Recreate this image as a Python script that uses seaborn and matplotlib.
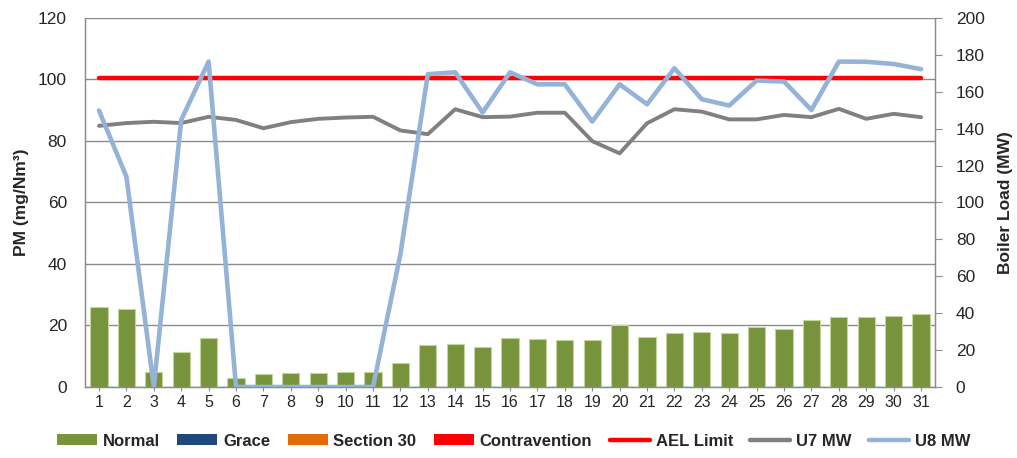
import matplotlib
matplotlib.use("Agg")
import matplotlib.pyplot as plt
import numpy as np
import pandas as pd
import seaborn as sns
from matplotlib.lines import Line2D
from matplotlib.patches import Patch

# 일자별 데이터
days = list(range(1, 32))
pm_normal = [26.0, 25.4, 4.9, 11.3, 16.0, 3.0, 4.2, 4.6, 4.6, 4.9, 5.0,
             7.8, 13.7, 14.0, 13.0, 16.0, 15.6, 15.3, 15.3, 20.2, 16.3,
             17.6, 17.9, 17.6, 19.5, 19.0, 21.8, 22.8, 22.8, 23.2, 23.8]
u7_mw = [141.5, 143.0, 143.7, 143.0, 146.4, 144.7, 140.2, 143.5, 145.3, 146.0,
         146.4, 139.0, 137.0, 150.5, 146.2, 146.5, 148.6, 148.6, 133.2, 126.6,
         142.9, 150.5, 149.2, 145.0, 145.0, 147.4, 146.2, 150.7, 145.3, 148.0,
         146.2]
u8_mw = [149.8, 114.0, 0.0, 144.7, 176.3, 0.0, 0.0, 0.0, 0.0, 0.0,
         0.0, 72.0, 169.5, 170.5, 148.7, 170.5, 164.0, 164.0, 143.8, 164.0,
         153.2, 172.7, 155.9, 152.5, 166.0, 165.5, 150.1, 176.3, 176.2, 175.0,
         172.2]
AEL_LIMIT = 100.5  # mg/Nm3

legend_labels = ["Normal", "Grace", "Section 30", "Contravention",
                 "AEL Limit", "U7 MW", "U8 MW"]

GREEN = "#77933C"
BLUE = "#1F497D"
ORANGE = "#E36C09"
RED = "#FF0000"
GREY = "#808080"
LIGHT_BLUE = "#95B3D7"
AXIS_GREY = "#8C8C8C"

df = pd.DataFrame({"day": days, "pm": pm_normal, "u7": u7_mw, "u8": u8_mw})
df["pos"] = df.index
df["ael"] = AEL_LIMIT

sns.set_style("white")
plt.rcParams["font.family"] = ["Liberation Sans", "DejaVu Sans"]

fig = plt.figure(figsize=(10.17, 4.58), dpi=100)
ax = fig.add_axes([0.0836, 0.155, 0.8358, 0.806])

sns.barplot(data=df, x="pos", y="pm", color=GREEN, width=0.63,
            edgecolor="#C3D69B", linewidth=0.8, saturation=1, ax=ax,
            zorder=2)
sns.lineplot(data=df, x="pos", y="ael", color=RED, linewidth=3.2, ax=ax,
             zorder=3)

ax.set_ylim(0, 120)
ax.set_yticks(np.arange(0, 121, 20))
ax.set_xlim(-0.51, len(days) - 0.49)
ax.set_xticks(df["pos"])
ax.set_xticklabels(days, fontsize=11.5)
ax.tick_params(axis="y", labelsize=12.5, length=0, pad=13)
ax.tick_params(axis="x", length=3, color=AXIS_GREY, pad=3, direction="out",
               bottom=True)
ax.grid(axis="y", color=AXIS_GREY, linewidth=1)
ax.set_axisbelow(True)
ax.set_xlabel("")
ax.set_ylabel("PM (mg/Nm³)", fontsize=12.5, fontweight="bold")
ax.yaxis.set_label_coords(-0.066, 0.5)
for side in ("left", "right", "bottom"):
    ax.spines[side].set_color(AXIS_GREY)
    ax.spines[side].set_linewidth(1)
ax.spines["top"].set_visible(False)

ax2 = ax.twinx()
sns.lineplot(data=df, x="pos", y="u7", color=GREY, linewidth=2.8, ax=ax2)
sns.lineplot(data=df, x="pos", y="u8", color=LIGHT_BLUE, linewidth=3.3, ax=ax2)
ax2.set_ylim(0, 200)
ax2.set_yticks(np.arange(0, 201, 20))
ax2.tick_params(axis="y", labelsize=12.5, length=5, color=AXIS_GREY,
                direction="out", right=True, pad=10)
ax2.set_ylabel("Boiler Load (MW)", fontsize=12.5, fontweight="bold",
               rotation=90)
ax2.yaxis.set_label_coords(1.074, 0.5)
ax2.grid(False)
for side in ("left", "right", "bottom"):
    ax2.spines[side].set_color(AXIS_GREY)
ax2.spines["top"].set_visible(False)

handles = [
    Patch(facecolor=GREEN, edgecolor="none"),
    Patch(facecolor=BLUE, edgecolor="none"),
    Patch(facecolor=ORANGE, edgecolor="none"),
    Patch(facecolor=RED, edgecolor="none"),
    Line2D([], [], color=RED, linewidth=3.2),
    Line2D([], [], color=GREY, linewidth=3.2),
    Line2D([], [], color=LIGHT_BLUE, linewidth=3.2),
]
fig.legend(handles, legend_labels, loc="center", bbox_to_anchor=(0.505, 0.037),
           ncol=7, frameon=False, prop={"weight": "bold", "size": 12},
           handlelength=2.4, handleheight=0.6, handletextpad=0.35,
           columnspacing=1.05)

fig.savefig("out.png", dpi=100)
